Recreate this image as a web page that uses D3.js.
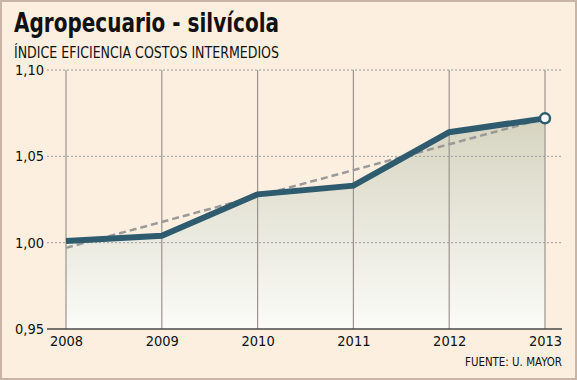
<!DOCTYPE html>
<html>
<head>
<meta charset="utf-8">
<script src="https://cdn.jsdelivr.net/npm/d3@7"></script>
<style>
  body { margin: 0; background: #fff; }
  #chart { width: 577px; height: 380px; }
  text { font-family: "DejaVu Sans Condensed", "DejaVu Sans", sans-serif; }
</style>
</head>
<body>
<div id="chart"></div>
<script>
// data
var years = [2008, 2009, 2010, 2011, 2012, 2013];
var values = [1.001, 1.004, 1.028, 1.033, 1.064, 1.072];
var trendYears = [2008, 2013];
var trendValues = [0.997, 1.072];
var yTicks = [0.95, 1.00, 1.05, 1.10];

var svgWidth = 577, svgHeight = 380;
var margin = { top: 70, right: 32, bottom: 51, left: 66 };
var width = svgWidth - margin.left - margin.right;
var height = svgHeight - margin.top - margin.bottom;

var svg = d3.select("#chart").append("svg")
    .attr("width", svgWidth)
    .attr("height", svgHeight);

// background + frame
svg.append("rect")
    .attr("x", 1).attr("y", 1)
    .attr("width", svgWidth - 2).attr("height", svgHeight - 2)
    .attr("fill", "#fcefdf")
    .attr("stroke", "#c9b5a5")
    .attr("stroke-width", 2);

svg.append("text")
    .attr("x", 14).attr("y", 32)
    .attr("textLength", 265)
    .attr("lengthAdjust", "spacingAndGlyphs")
    .style("font-size", "26px")
    .style("font-weight", "bold")
    .attr("fill", "#111")
    .text("Agropecuario - silvícola");

svg.append("text")
    .attr("x", 14).attr("y", 58)
    .attr("textLength", 265)
    .attr("lengthAdjust", "spacingAndGlyphs")
    .style("font-size", "15px")
    .attr("fill", "#111")
    .text("ÍNDICE EFICIENCIA COSTOS INTERMEDIOS");

var g = svg.append("g")
    .attr("transform", "translate(" + margin.left + "," + margin.top + ")");

var xScale = d3.scaleLinear().domain([2008, 2013]).range([0, width]);
var yScale = d3.scaleLinear().domain([0.95, 1.10]).range([height, 0]);

// gradient for area
var defs = svg.append("defs");
var grad = defs.append("linearGradient")
    .attr("id", "areaGrad")
    .attr("gradientUnits", "userSpaceOnUse")
    .attr("x1", 0).attr("x2", 0)
    .attr("y1", yScale(d3.max(values))).attr("y2", height);
grad.append("stop").attr("offset", "0%").attr("stop-color", "#d6d4c0");
grad.append("stop").attr("offset", "100%").attr("stop-color", "#fbfbf8");

var area = d3.area()
    .x(function(d, i) { return xScale(years[i]); })
    .y0(height)
    .y1(function(d) { return yScale(d); });

g.append("path")
    .datum(values)
    .attr("d", area)
    .attr("fill", "url(#areaGrad)");

// horizontal dotted grid
g.selectAll(".hgrid")
    .data(yTicks.slice(1))
    .enter().append("line")
    .attr("x1", -19).attr("x2", width + 17)
    .attr("y1", function(d) { return yScale(d); })
    .attr("y2", function(d) { return yScale(d); })
    .attr("stroke", "#9a9a9a")
    .attr("stroke-width", 1)
    .attr("stroke-dasharray", "2,2");

// vertical grid
g.selectAll(".vgrid")
    .data(years)
    .enter().append("line")
    .attr("x1", function(d) { return xScale(d); })
    .attr("x2", function(d) { return xScale(d); })
    .attr("y1", 0).attr("y2", height)
    .attr("stroke", "#9a948e")
    .attr("stroke-width", 1.2);

// y labels
var yAxis = d3.axisLeft(yScale)
    .tickValues(yTicks)
    .tickSize(0)
    .tickPadding(22)
    .tickFormat(function(d) { return d3.format(".2f")(d).replace(".", ","); });
var yAxisGroup = g.append("g").call(yAxis);
yAxisGroup.select(".domain").remove();
yAxisGroup.selectAll("text")
    .style("font-size", "14.5px")
    .style("font-family", "'DejaVu Sans Condensed', 'DejaVu Sans', sans-serif")
    .attr("fill", "#111");

// x axis
var xAxis = d3.axisBottom(xScale)
    .tickValues(years)
    .tickSize(0)
    .tickPadding(7)
    .tickFormat(d3.format("d"));
var xAxisGroup = g.append("g")
    .attr("transform", "translate(0," + height + ")")
    .call(xAxis);
xAxisGroup.select(".domain").remove();
xAxisGroup.selectAll("text")
    .style("font-size", "14.5px")
    .style("font-family", "'DejaVu Sans Condensed', 'DejaVu Sans', sans-serif")
    .attr("fill", "#111");

g.append("line")
    .attr("x1", -19).attr("x2", width + 17)
    .attr("y1", height).attr("y2", height)
    .attr("stroke", "#4a4a4a")
    .attr("stroke-width", 1.5);

// trend line
var trendLine = d3.line()
    .x(function(d, i) { return xScale(trendYears[i]); })
    .y(function(d) { return yScale(d); });
g.append("path")
    .datum(trendValues)
    .attr("d", trendLine)
    .attr("fill", "none")
    .attr("stroke", "#9c9a98")
    .attr("stroke-width", 2.5)
    .attr("stroke-dasharray", "7,4");

// main line
var line = d3.line()
    .x(function(d, i) { return xScale(years[i]); })
    .y(function(d) { return yScale(d); });
g.append("path")
    .datum(values)
    .attr("d", line)
    .attr("fill", "none")
    .attr("stroke", "#2f5b6f")
    .attr("stroke-width", 6)
    .attr("stroke-linejoin", "miter");

g.append("circle")
    .attr("cx", xScale(years[years.length - 1]))
    .attr("cy", yScale(values[values.length - 1]))
    .attr("r", 5)
    .attr("fill", "#fff")
    .attr("stroke", "#2f5b6f")
    .attr("stroke-width", 2.5);

svg.append("text")
    .attr("x", 562).attr("y", 366)
    .attr("text-anchor", "end")
    .attr("textLength", 97)
    .attr("lengthAdjust", "spacingAndGlyphs")
    .style("font-size", "12px")
    .attr("fill", "#111")
    .text("FUENTE: U. MAYOR");
</script>
</body>
</html>
